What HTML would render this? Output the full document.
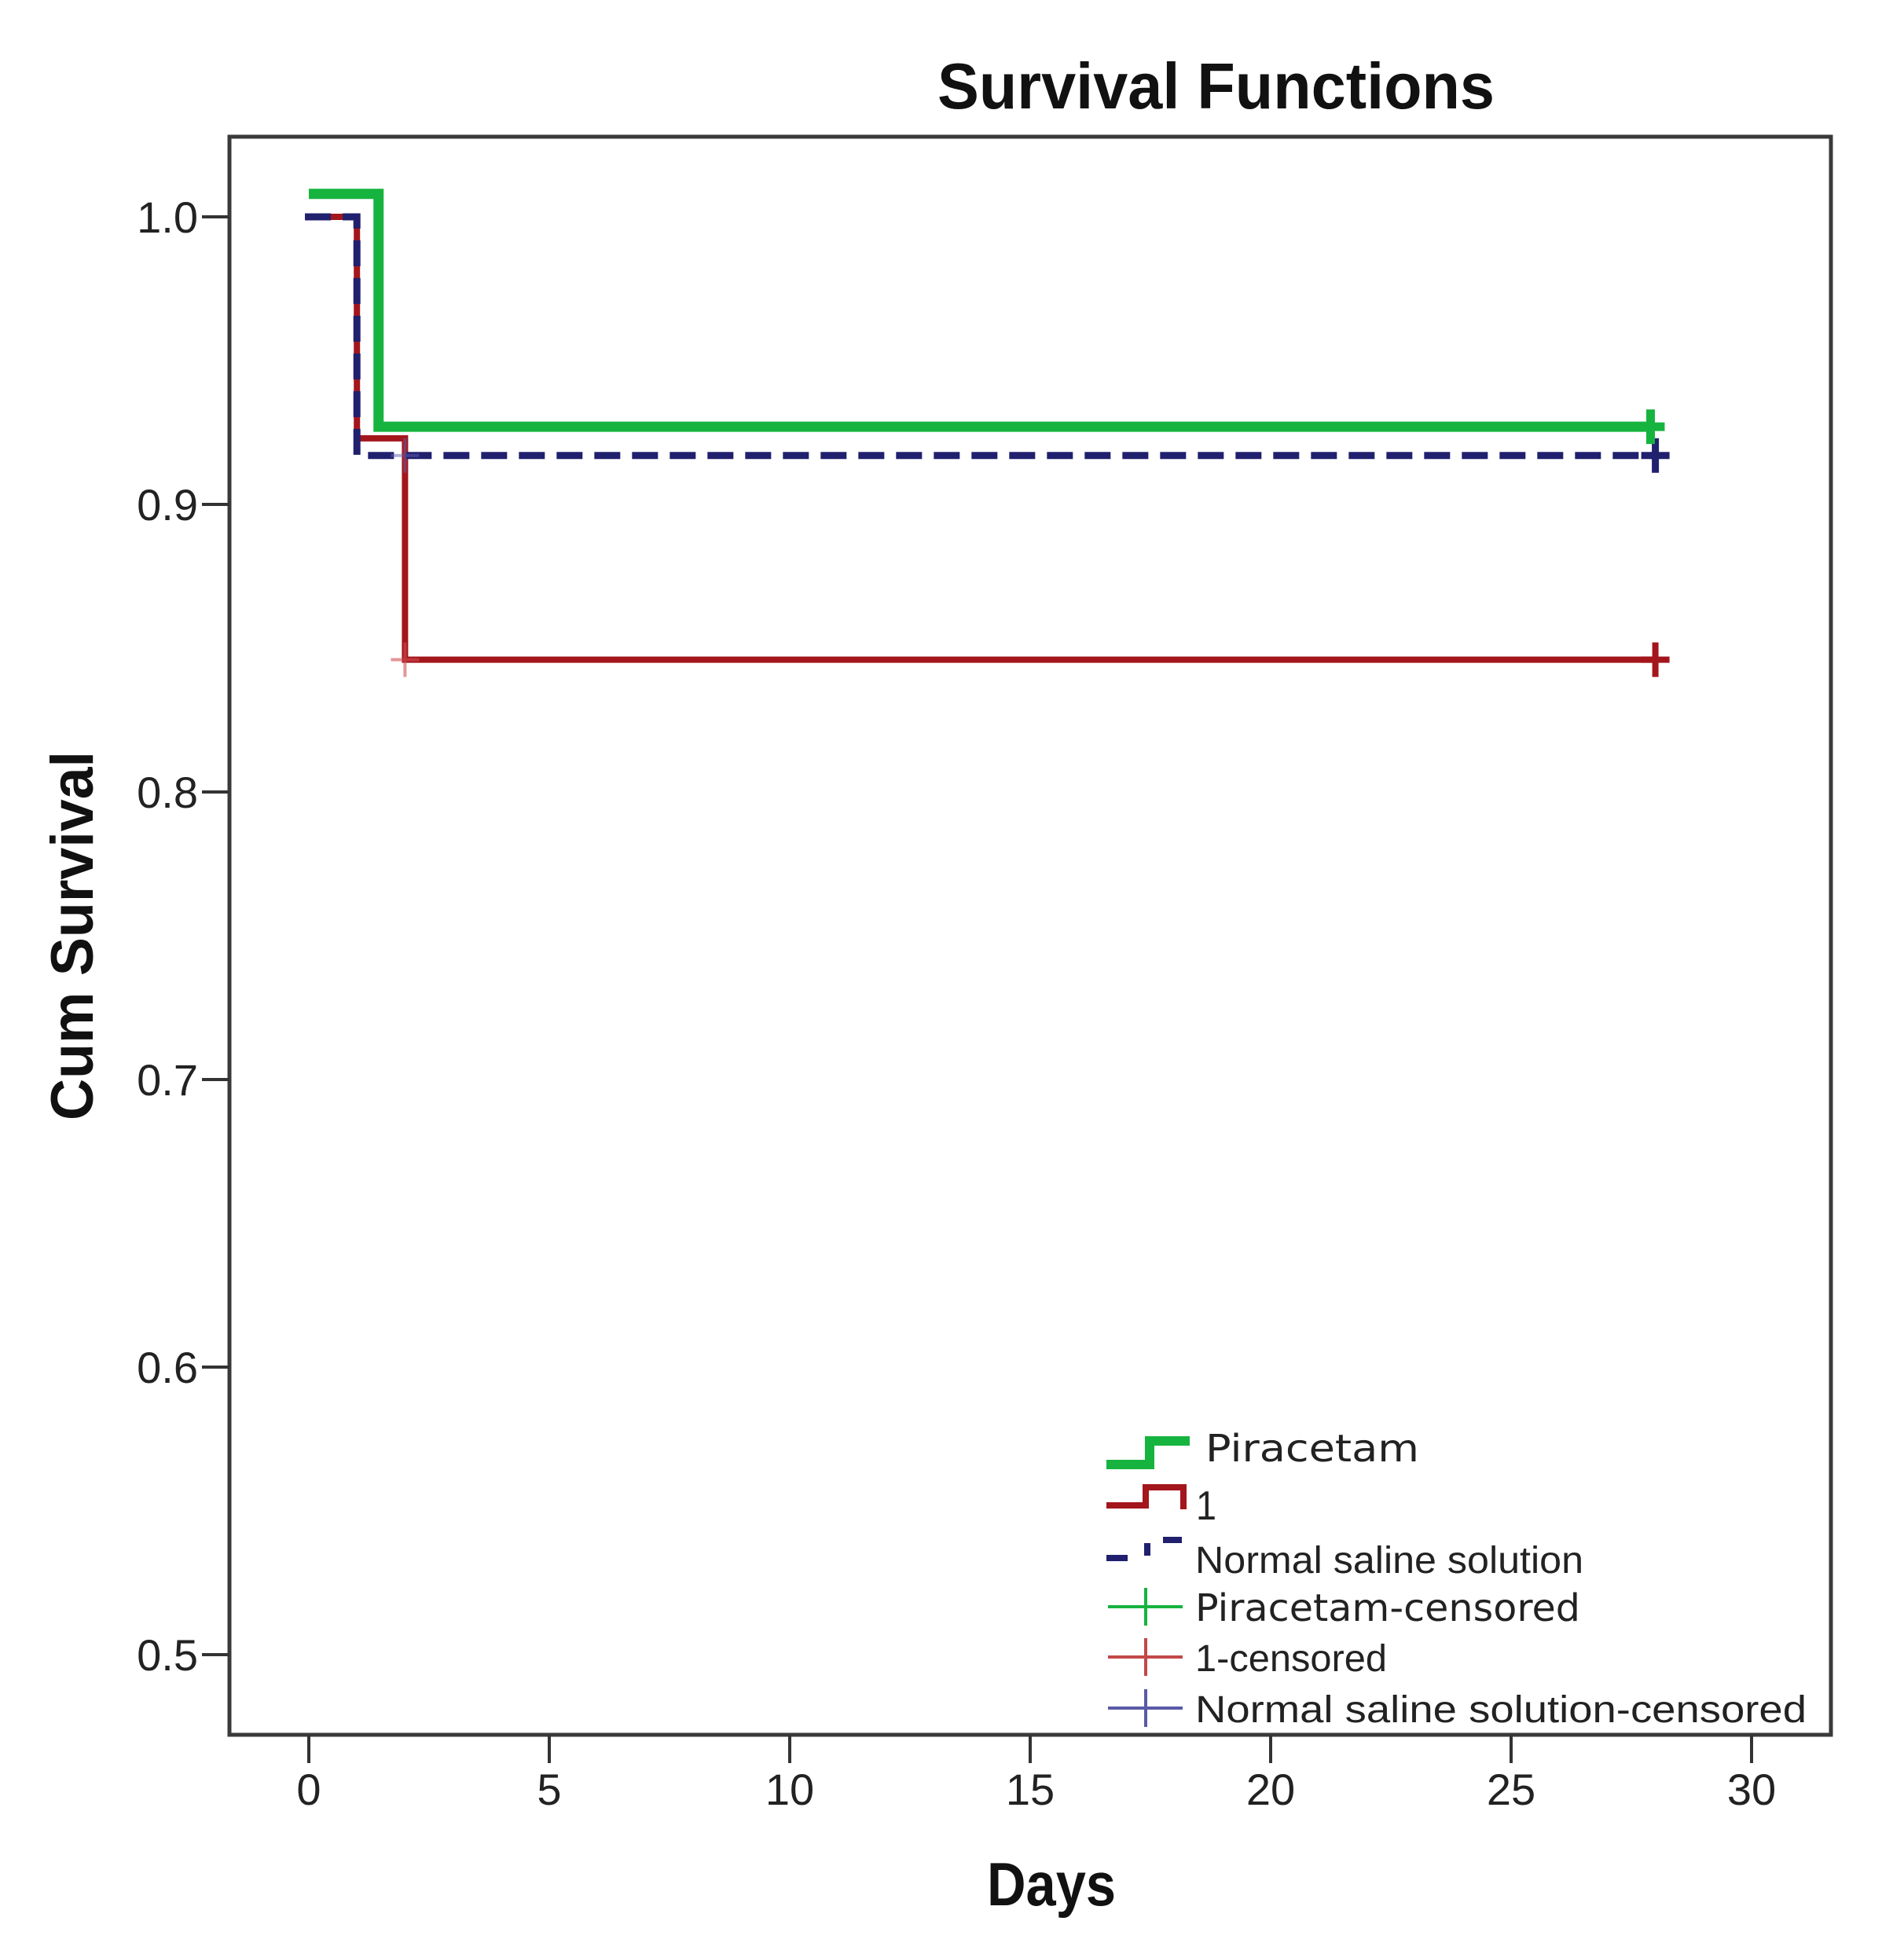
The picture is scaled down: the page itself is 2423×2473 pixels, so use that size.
<!DOCTYPE html>
<html><head><meta charset="utf-8"><style>
html,body{margin:0;padding:0;background:#fff;}
svg{display:block;}
text{font-family:"Liberation Sans",Arial,sans-serif;fill:#222;}
</style></head>
<body>
<svg id="chart" width="2423" height="2473" viewBox="0 0 2423 2473" xmlns="http://www.w3.org/2000/svg">
<rect width="2423" height="2473" fill="#fff"/>
<text x="1193" y="138" font-size="83" font-weight="bold" textLength="709" lengthAdjust="spacingAndGlyphs" style="fill:#111">Survival Functions</text>
<rect x="292" y="174" width="2038" height="2034" fill="none" stroke="#3a3a3a" stroke-width="5"/>
<g id="yaxis"></g>
<g id="xaxis"></g>
<text transform="translate(118,1191) rotate(-90)" text-anchor="middle" font-size="76" font-weight="bold" textLength="470" lengthAdjust="spacingAndGlyphs" style="fill:#111">Cum Survival</text>
<text x="1338" y="2425" text-anchor="middle" font-size="78" font-weight="bold" textLength="164" lengthAdjust="spacingAndGlyphs" style="fill:#111">Days</text>
<g id="series"></g>
<g id="legend"></g>
</svg>
<script>
const yTicks = [1.0, 0.9, 0.8, 0.7, 0.6, 0.5];
const yTickLabels = ["1.0", "0.9", "0.8", "0.7", "0.6", "0.5"];
const xTicks = [0, 5, 10, 15, 20, 25, 30];
const xTickLabels = ["0", "5", "10", "15", "20", "25", "30"];
const seriesNames = ["Piracetam", "1", "Normal saline solution"];
const piracetamTimes = [0, 1.45, 27.9];
const piracetamSurv = [1.008, 0.927];
const oneTimes = [-0.08, 1, 2, 28];
const oneSurv = [1.0, 0.923, 0.846];
const salineTimes = [-0.08, 1, 28];
const salineSurv = [1.0, 0.917];
const piracetamCensorT = [27.9];
const piracetamCensorS = [0.927];
const oneCensorT = [2, 28];
const oneCensorS = [0.846, 0.846];
const salineCensorT = [2, 28];
const salineCensorS = [0.917, 0.917];

const NS = "http://www.w3.org/2000/svg";
const X0 = 393, XPD = 61.2, Y1 = 276, YPU = 3660;
function xs(d){ return X0 + d * XPD; }
function ys(v){ return Y1 + (1 - v) * YPU; }
function mk(tag, attrs, parent){
  const e = document.createElementNS(NS, tag);
  for (const k in attrs) e.setAttribute(k, attrs[k]);
  parent.appendChild(e); return e;
}
const yaxis = document.getElementById('yaxis');
yTicks.forEach((v,i)=>{
  const l = mk('line',{x1:257,x2:292,y1:ys(v),y2:ys(v),stroke:'#333','stroke-width':4},yaxis);
  
  
  const t = mk('text',{x:252,y:ys(v)+20,'text-anchor':'end','font-size':56},yaxis);
  t.textContent = yTickLabels[i];
  
  
});
const xaxis = document.getElementById('xaxis');
xTicks.forEach((d,i)=>{
  const l = mk('line',{x1:xs(d),x2:xs(d),y1:2208,y2:2244,stroke:'#333','stroke-width':4},xaxis);
  
  
  const t = mk('text',{x:xs(d),y:2297,'text-anchor':'middle','font-size':56},xaxis);
  t.textContent = xTickLabels[i];
  
  
});
function stepPath(times, surv){
  let d = 'M' + xs(times[0]) + ' ' + ys(surv[0]);
  for (let i = 1; i < times.length; i++){
    d += ' H' + xs(times[i]);
    if (i < surv.length) d += ' V' + ys(surv[i]);
  }
  return d;
}
const sg = document.getElementById('series');
function censor(times, surv, color, op, sw, name){
  times.forEach((t,i)=>{
    const x = xs(t), y = ys(surv[i]);
    const p = mk('path',{d:`M${x-18} ${y} H${x+18} M${x} ${y-22} V${y+22}`,stroke:color,'stroke-width':sw,fill:'none',opacity:op},sg);
    
    
  });
}
const pOne = mk('path',{d:stepPath(oneTimes,oneSurv),stroke:'#a3161c','stroke-width':8,fill:'none'},sg);


const pSal = mk('path',{d:stepPath(salineTimes,salineSurv),stroke:'#20206e','stroke-width':9,fill:'none','stroke-dasharray':'33 15'},sg);


const pPir = mk('path',{d:stepPath(piracetamTimes,piracetamSurv),stroke:'#16b43f','stroke-width':13,fill:'none'},sg);


censor(oneCensorT.slice(0,1), oneCensorS.slice(0,1), '#d05050', 0.6, 4, 'series-1-censor');
censor(salineCensorT.slice(0,1), salineCensorS.slice(0,1), '#6060b0', 0.5, 4, 'saline-censor');
censor(oneCensorT.slice(1), oneCensorS.slice(1), '#a3161c', 1, 8, 'series-1-censor');
censor(salineCensorT.slice(1), salineCensorS.slice(1), '#20206e', 1, 9, 'saline-censor');
censor(piracetamCensorT, piracetamCensorS, '#16b43f', 1, 11, 'piracetam-censor');

const lg = document.getElementById('legend');
function ltext(x,y,str,fam,len,name,fs){
  const t = mk('text',{x:x,y:y,'font-size':fs||48,textLength:len,lengthAdjust:'spacingAndGlyphs'},lg);
  if (fam) t.setAttribute('style','font-family:'+fam+';fill:#222');
  t.textContent = str;
  
  
}
let e;
e = mk('path',{d:'M1408 1864 H1463 V1834 H1514',stroke:'#16b43f','stroke-width':12,fill:'none'},lg);


ltext(1534,1860,seriesNames[0],'"DejaVu Sans",sans-serif',272,'legend-piracetam-label');
e = mk('path',{d:'M1408 1916 H1458 V1893 H1506 V1921',stroke:'#a3161c','stroke-width':8,fill:'none'},lg);


ltext(1522,1934,seriesNames[1],null,26,'legend-1-label',52);
e = mk('path',{d:'M1408 1983 H1435 M1460 1980 V1964 M1480 1960 H1504',stroke:'#20206e','stroke-width':8,fill:'none'},lg);


ltext(1521,2002,seriesNames[2],null,494,'legend-saline-label');
const cens = [[2045,'#16b43f','Piracetam-censored','"DejaVu Sans",sans-serif',490,'legend-piracetam-censored'],
              [2109,'#c24848','1-censored',null,244,'legend-1-censored'],
              [2174,'#5a5aa8','Normal saline solution-censored',null,778,'legend-saline-censored']];
cens.forEach(c=>{
  const p = mk('path',{d:`M1410 ${c[0]} H1505 M1458 ${c[0]-24} V${c[0]+24}`,stroke:c[1],'stroke-width':4,fill:'none'},lg);
  
  
  ltext(1521,c[0]+18,c[2],c[3],c[4],c[5]+'-label');
});
</script>
</body></html>
